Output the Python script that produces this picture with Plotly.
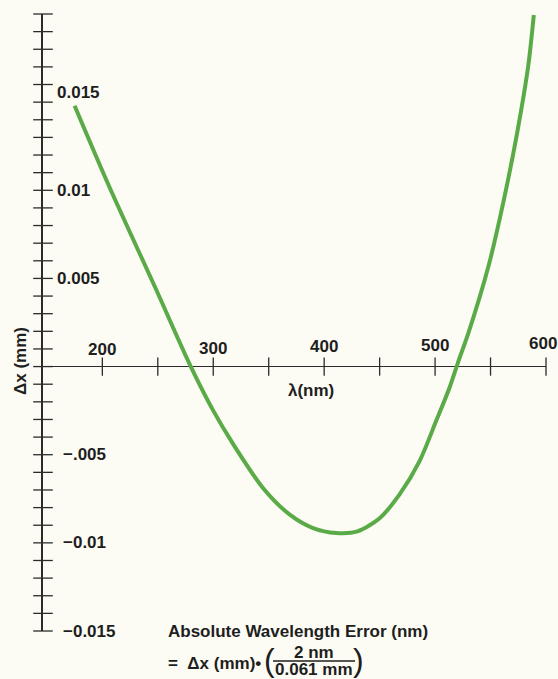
import numpy as np
import plotly.graph_objects as go

# ---- data ----
wavelength_nm = [175, 207, 249, 279, 300, 318, 345, 369, 390, 411, 430, 450,
                 468, 486, 501, 513, 521, 530, 548, 562, 574, 584, 589]
delta_x_mm = [0.0148, 0.0101, 0.0043, 0.0001, -0.0025, -0.0044, -0.0069, -0.0084,
              -0.00916, -0.00944, -0.00935, -0.0086, -0.00725, -0.00536,
              -0.00308, -0.0012, 0.0003, 0.0019, 0.00566, 0.00946, 0.01326,
              0.01706, 0.01994]

x_tick_vals = [200, 250, 300, 350, 400, 450, 500, 550, 600]
x_label_vals = [200, 300, 400, 500, 600]
x_label_text = ["200", "300", "400", "500", "600"]
y_tick_vals = list(np.round(np.arange(-0.015, 0.0201, 0.001), 4))
y_label_vals = [0.015, 0.01, 0.005, -0.005, -0.01, -0.015]
y_label_text = ["0.015", "0.01", "0.005", "\u2212.005", "\u22120.01", "\u22120.015"]

X_RANGE = [146.5, 600]
Y_RANGE = [-0.015, 0.020]

W, H = 558, 679
L, R, T, B = 43, 12, 14, 48
PW, PH = W - L - R, H - T - B

def px(xp):
    return (xp - L) / PW

def py(yp):
    return (H - B - yp) / PH

AX = "#2b2b2b"
GREEN = "#5aab48"
FONT = "Liberation Sans"
TXT = "#1e1e1e"

fig = go.Figure()

# curve
fig.add_trace(go.Scatter(
    x=wavelength_nm, y=delta_x_mm, mode="lines",
    line=dict(color=GREEN, width=4, shape="spline", smoothing=0.8),
    hoverinfo="skip", showlegend=False))

# x-axis crossing ticks
fig.add_trace(go.Scatter(
    x=x_tick_vals, y=[0] * len(x_tick_vals), mode="markers",
    marker=dict(symbol="line-ns", size=13, line=dict(width=1.3, color=AX)),
    hoverinfo="skip", showlegend=False, cliponaxis=False))

# y-axis crossing ticks
fig.add_trace(go.Scatter(
    x=[X_RANGE[0]] * len(y_tick_vals), y=y_tick_vals, mode="markers",
    marker=dict(symbol="line-ew", size=14, line=dict(width=1.3, color=AX)),
    hoverinfo="skip", showlegend=False, cliponaxis=False))

annotations = []
bold = dict(family=FONT, size=17, color=TXT)
for v, t in zip(y_label_vals, y_label_text):
    annotations.append(dict(
        x=0, xref="paper", y=v, yref="y", text="<b>%s</b>" % t,
        showarrow=False, xanchor="left", yanchor="middle",
        xshift=12 if v > 0 else 18, yshift=10 if v == 0.015 else 0,
        font=bold))
for v, t in zip(x_label_vals, x_label_text):
    annotations.append(dict(
        x=v, xref="x", y=0, yref="y", text="<b>%s</b>" % t,
        showarrow=False, xanchor="center", yanchor="middle",
        xshift=-3 if v == 600 else 0,
        yshift=17 + (v - 200) / 100.0 * 1.5, font=bold))

annotations.append(dict(x=px(311), xref="paper", y=0, yref="y",
                        text="<b>\u03bb(nm)</b>", showarrow=False,
                        xanchor="center", yanchor="middle", yshift=-24,
                        font=bold))
annotations.append(dict(x=px(21), xref="paper", y=py(361), yref="paper",
                        text="<b>\u0394x (mm)</b>", showarrow=False,
                        textangle=-90, xanchor="center", yanchor="middle",
                        font=bold))

f17 = dict(family=FONT, size=17, color=TXT)
annotations.append(dict(x=px(166), xref="paper", y=py(631), yref="paper",
                        text="<b>Absolute Wavelength Error (nm)</b>",
                        showarrow=False, xanchor="left", yanchor="middle",
                        font=f17))
annotations.append(dict(x=px(166), xref="paper", y=py(663), yref="paper",
                        text="<b>=\u00a0\u00a0\u0394x (mm)\u2022</b>",
                        showarrow=False, xanchor="left", yanchor="middle",
                        font=f17))
annotations.append(dict(x=px(269), xref="paper", y=py(660), yref="paper",
                        text="(", showarrow=False, xanchor="center",
                        yanchor="middle",
                        font=dict(family=FONT, size=32, color=TXT)))
annotations.append(dict(x=px(358), xref="paper", y=py(660), yref="paper",
                        text=")", showarrow=False, xanchor="center",
                        yanchor="middle",
                        font=dict(family=FONT, size=32, color=TXT)))
annotations.append(dict(x=px(314), xref="paper", y=py(652), yref="paper",
                        text="<b>2 nm</b>", showarrow=False,
                        xanchor="center", yanchor="middle", font=f17))
annotations.append(dict(x=px(314), xref="paper", y=py(669), yref="paper",
                        text="<b>0.061 mm</b>", showarrow=False,
                        xanchor="center", yanchor="middle", font=f17))

shapes = [dict(type="line", xref="paper", yref="paper",
               x0=px(273), x1=px(355), y0=py(661), y1=py(661),
               line=dict(color=TXT, width=1.5))]

fig.update_layout(
    width=W, height=H,
    margin=dict(l=L, r=R, t=T, b=B, pad=0),
    paper_bgcolor="#fcfcf4", plot_bgcolor="#fcfcf4",
    xaxis=dict(range=X_RANGE, showgrid=False, zeroline=False,
               showticklabels=False, ticks="", showline=False, fixedrange=True),
    yaxis=dict(range=Y_RANGE, showgrid=False, zeroline=True,
               zerolinecolor=AX, zerolinewidth=1.4,
               showticklabels=False, ticks="", showline=True,
               linecolor=AX, linewidth=1.6, fixedrange=True),
    annotations=annotations, shapes=shapes,
    showlegend=False,
)

fig.write_html(
    "out.html",
    config={"displayModeBar": False},
    post_script="document.body.style.margin='0';document.body.style.overflow='hidden';",
)
